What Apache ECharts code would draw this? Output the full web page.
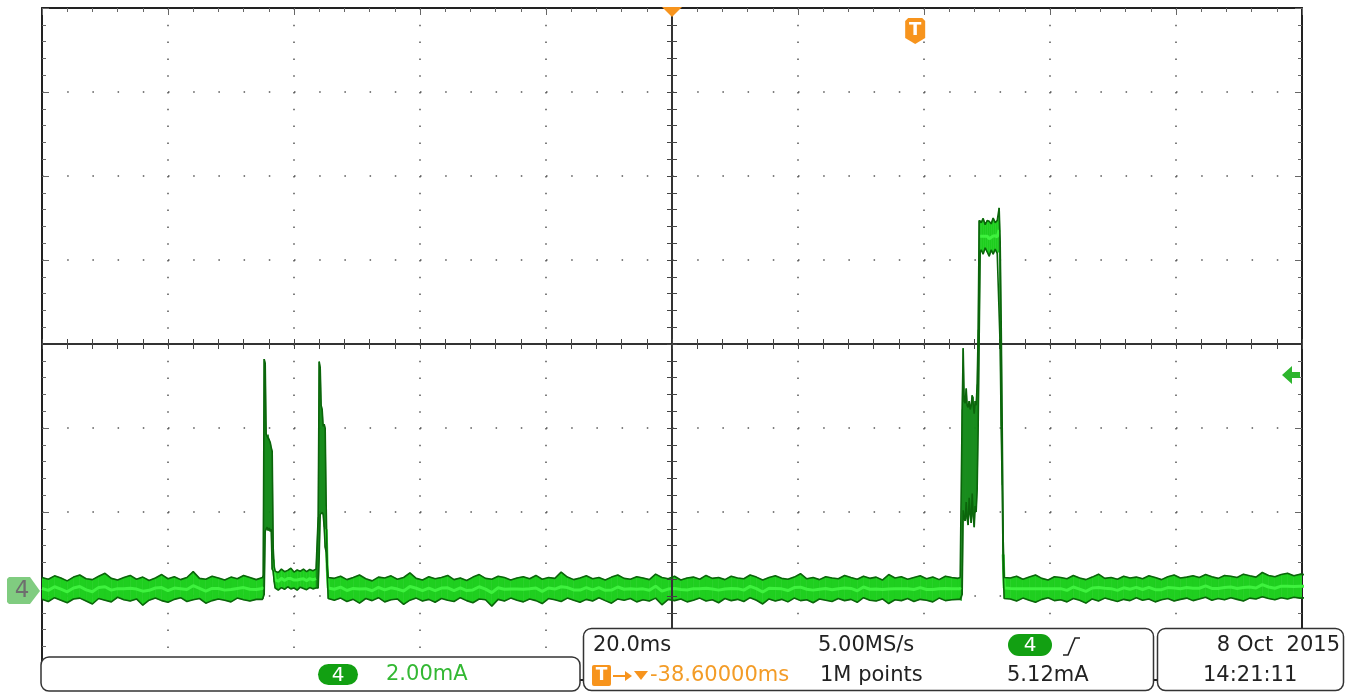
<!DOCTYPE html>
<html><head><meta charset="utf-8">
<script src="https://cdn.jsdelivr.net/npm/echarts@6/dist/echarts.min.js"></script>
<style>html,body{margin:0;padding:0;background:#fff;}#c{width:1352px;height:693px;}</style>
</head><body><div id="c"></div>
<script>
// ---------- data (time in ms relative to trigger, current in mA) ----------
const sampleStepMs = 1.0;
const timeRangeMs = [-138.6, 61.4];
const currentRangeMA = [-2.14, 13.86];
const divRangeX = [-5, 5];
const divRangeY = [-4, 4];
const horizPositionMs = -38.6;
const triggerTimeMs = 0;
const triggerLevelMA = 5.12;

const base1StartMs = -138.6;
const base1Upper = [0.30,0.26,0.34,0.29,0.22,0.31,0.36,0.27,0.25,0.33,0.40,0.28,0.24,0.30,0.35,0.26,0.31,0.23,0.29,0.37,0.27,0.32,0.25,0.30,0.44,0.28,0.26,0.33,0.29,0.24,0.31,0.27,0.35,0.30,0.25,0.30];
const base1Lower = [-0.22,-0.27,-0.18,-0.24,-0.30,-0.21,-0.19,-0.26,-0.33,-0.20,-0.24,-0.28,-0.17,-0.23,-0.26,-0.21,-0.36,-0.24,-0.19,-0.25,-0.29,-0.22,-0.18,-0.27,-0.23,-0.20,-0.31,-0.25,-0.21,-0.24,-0.28,-0.19,-0.23,-0.26,-0.22,-0.22];

// [time ms, lower mA, upper mA]
const burstA = [
 [-103.49,-0.20,0.35],[-103.33,-0.10,5.50],[-103.17,1.40,5.40],[-103.02,1.45,3.72],[-102.86,1.50,3.66],
 [-102.70,1.42,3.70],[-102.54,1.48,3.58],[-102.38,1.40,3.52],[-102.22,1.45,3.40],[-102.06,0.50,3.30],
 [-101.90,0.45,1.00],[-101.75,0.20,0.55],[-101.59,0.05,0.45],[-101.10,0.00,0.42],[-100.60,0.06,0.50],
 [-100.10,0.02,0.44],[-99.60,0.08,0.47],[-99.10,0.03,0.52],[-98.60,0.05,0.43],[-98.10,0.00,0.48],
 [-97.60,0.07,0.45],[-97.10,0.04,0.50],[-96.60,0.01,0.44],[-96.10,0.06,0.49],[-95.60,0.03,0.46],
 [-95.10,0.05,0.50],[-94.76,0.05,1.74],[-94.60,0.80,5.44],[-94.44,1.80,5.30],[-94.29,1.83,4.40],
 [-94.13,1.85,4.30],[-93.97,1.80,3.90],[-93.81,1.50,3.95],[-93.65,1.02,3.85],[-93.49,0.90,2.00],
 [-93.33,0.45,0.60],[-93.17,-0.20,0.30]
];

const base2StartMs = -92.2;
const base2Upper = [
 0.28,0.33,0.25,0.30,0.36,0.27,0.22,0.31,0.29,0.34,
 0.26,0.30,0.41,0.28,0.24,0.32,0.27,0.30,0.35,0.25,
 0.29,0.23,0.31,0.37,0.28,0.26,0.33,0.30,0.24,0.29,
 0.32,0.27,0.35,0.26,0.30,0.28,0.43,0.31,0.25,0.29,
 0.34,0.27,0.30,0.24,0.31,0.36,0.28,0.26,0.32,0.29,
 0.25,0.38,0.30,0.27,0.33,0.24,0.29,0.31,0.26,0.35,
 0.28,0.30,0.25,0.33,0.29,0.27,0.36,0.31,0.24,0.30,
 0.34,0.28,0.26,0.31,0.39,0.27,0.30,0.25,0.32,0.29,
 0.27,0.35,0.30,0.26,0.33,0.28,0.31,0.24,0.37,0.29,
 0.32,0.26,0.30,0.34,0.27,0.31,0.25,0.33,0.30,0.28];
const base2Lower = [
 -0.24,-0.19,-0.27,-0.22,-0.31,-0.20,-0.25,-0.18,-0.28,-0.23,
 -0.21,-0.34,-0.24,-0.19,-0.26,-0.22,-0.29,-0.20,-0.24,-0.27,
 -0.18,-0.25,-0.30,-0.21,-0.23,-0.38,-0.22,-0.26,-0.19,-0.24,
 -0.28,-0.21,-0.25,-0.32,-0.20,-0.23,-0.27,-0.19,-0.24,-0.29,
 -0.22,-0.26,-0.18,-0.25,-0.31,-0.21,-0.24,-0.20,-0.28,-0.23,
 -0.26,-0.19,-0.35,-0.22,-0.25,-0.21,-0.28,-0.24,-0.19,-0.26,
 -0.23,-0.30,-0.20,-0.25,-0.22,-0.27,-0.18,-0.24,-0.33,-0.21,
 -0.26,-0.22,-0.28,-0.19,-0.25,-0.23,-0.30,-0.21,-0.24,-0.27,
 -0.20,-0.25,-0.22,-0.29,-0.18,-0.24,-0.26,-0.21,-0.32,-0.23,
 -0.25,-0.20,-0.27,-0.22,-0.24,-0.28,-0.19,-0.25,-0.23,-0.22];

const burstB = [
 [7.14,-0.22,0.30],[7.30,-0.25,0.28],[7.46,-0.10,4.30],[7.62,1.90,5.76],[7.78,1.70,4.50],
 [7.94,1.65,4.45],[8.10,2.10,4.80],[8.25,1.70,4.40],[8.41,1.55,4.35],[8.57,2.20,4.50],
 [8.73,1.80,4.30],[8.89,1.60,4.40],[9.05,2.30,4.64],[9.21,1.75,4.60],[9.37,1.50,4.20],
 [9.52,2.00,4.50],[9.68,1.86,4.40],[9.84,2.40,4.90],[10.00,3.90,6.20],[10.16,6.00,8.80],
 [10.32,8.05,8.80],[10.48,8.10,8.75],[10.79,8.00,8.85],[11.11,8.15,8.70],[11.43,8.05,8.80],
 [11.75,7.95,8.78],[12.06,8.10,8.72],[12.38,8.00,8.86],[12.70,8.12,8.75],[13.02,8.02,8.80],
 [13.25,8.05,8.82],[13.33,8.05,9.10],[13.49,5.80,8.30],[13.65,3.90,6.40],[13.81,2.50,4.00],
 [13.97,0.50,1.20],[14.13,-0.20,0.30]
];

const base3StartMs = 15.1;
const base3Upper = [
 0.29,0.33,0.26,0.31,0.36,0.28,0.24,0.32,0.30,0.27,
 0.35,0.29,0.25,0.31,0.38,0.28,0.30,0.26,0.33,0.29,
 0.31,0.27,0.34,0.30,0.25,0.32,0.36,0.29,0.31,0.34,
 0.30,0.37,0.32,0.28,0.35,0.33,0.30,0.38,0.34,0.31,
 0.42,0.35,0.32,0.37,0.40,0.34,0.38,0.36];
const base3Lower = [
 -0.21,-0.26,-0.19,-0.24,-0.29,-0.22,-0.18,-0.25,-0.23,-0.28,
 -0.20,-0.24,-0.31,-0.21,-0.26,-0.19,-0.23,-0.27,-0.22,-0.25,
 -0.18,-0.24,-0.21,-0.28,-0.23,-0.20,-0.26,-0.22,-0.19,-0.25,
 -0.21,-0.17,-0.24,-0.20,-0.23,-0.18,-0.22,-0.26,-0.19,-0.21,
 -0.16,-0.20,-0.23,-0.18,-0.21,-0.17,-0.19,-0.18];

// ---------- texts ----------
const chLabel = '4';
const scaleText = '2.00mA';
const timebaseText = '20.0ms';
const rateText = '5.00MS/s';
const delayText = '-38.60000ms';
const pointsText = '1M points';
const levelText = '5.12mA';
const dateText = '8 Oct  2015';
const clockText = '14:21:11';

// ---------- build trace ----------
function fromBase(start, up, lo) {
  return up.map((u, i) => [start + i * sampleStepMs, lo[i], u]);
}
const pts = [].concat(
  fromBase(base1StartMs, base1Upper, base1Lower), burstA,
  fromBase(base2StartMs, base2Upper, base2Lower), burstB,
  fromBase(base3StartMs, base3Upper, base3Lower));
const segs = [];
for (let i = 0; i < pts.length - 1; i++) segs.push(pts[i].concat(pts[i + 1]));
const WIDE = 1.2;
const midLine = pts.map(p => [p[0], (p[2] - p[1] > WIDE) ? null : (p[1] + p[2]) / 2]);

const GRID = {left: 42, top: 8, width: 1260, height: 672, outerBoundsMode: 'none'};
const grids = [0, 1, 2, 3].map(() => Object.assign({}, GRID));

function frameAxis(gi, pos, ext, dash, split) {
  return {
    gridIndex: gi, type: 'value', position: pos, min: ext[0], max: ext[1], interval: 1,
    axisLine: {show: true, onZero: false, lineStyle: {color: '#222', width: 2}},
    axisTick: {show: true, inside: true, length: 7, lineStyle: {color: '#666', width: 1}},
    minorTick: {show: true, splitNumber: 5, length: 4, lineStyle: {color: '#666', width: 1}},
    axisLabel: {show: false},
    splitLine: {show: split, lineStyle: {color: '#555', width: 1.5, type: dash}},
    minorSplitLine: {show: false}
  };
}
function centerAxis(gi, pos, ext) {
  return {
    gridIndex: gi, type: 'value', position: pos, min: ext[0], max: ext[1], interval: 1, z: 4,
    axisLine: {show: true, onZero: true, lineStyle: {color: '#333', width: 2}},
    axisTick: {show: true, inside: false, length: 5, lineStyle: {color: '#444', width: 1}},
    minorTick: {show: true, splitNumber: 5, length: 5, lineStyle: {color: '#444', width: 1}},
    axisLabel: {show: false}, splitLine: {show: false}
  };
}

const chart = echarts.init(document.getElementById('c'), null, {renderer: 'canvas'});
chart.setOption({
  animation: false,
  backgroundColor: '#fff',
  grid: grids,
  xAxis: [
    frameAxis(0, 'bottom', divRangeX, [1.5, 15.3], true),
    frameAxis(0, 'top', divRangeX, [1.5, 15.3], false),
    centerAxis(1, 'bottom', divRangeX),
    centerAxis(2, 'top', divRangeX),
    {gridIndex: 3, type: 'value', min: timeRangeMs[0], max: timeRangeMs[1], show: false}
  ],
  yAxis: [
    frameAxis(0, 'left', divRangeY, [1.5, 23.7], true),
    frameAxis(0, 'right', divRangeY, [1.5, 23.7], false),
    centerAxis(1, 'left', divRangeY),
    centerAxis(2, 'right', divRangeY),
    {gridIndex: 3, type: 'value', min: currentRangeMA[0], max: currentRangeMA[1], show: false}
  ],
  series: [
    {
      type: 'custom', xAxisIndex: 4, yAxisIndex: 4, data: segs, clip: true, z: 2, silent: true,
      encode: {x: [0, 3], y: [1, 2, 4, 5]},
      renderItem: function (params, api) {
        const a = api.coord([api.value(0), api.value(1)]);
        const b = api.coord([api.value(3), api.value(4)]);
        const c = api.coord([api.value(3), api.value(5)]);
        const d = api.coord([api.value(0), api.value(2)]);
        const wide = (api.value(2) - api.value(1) > WIDE) || (api.value(5) - api.value(4) > WIDE);
        const fill = wide ? '#138a17' : '#1fcf1f';
        return {type: 'polygon', shape: {points: [a, b, c, d]}, style: {fill: fill, stroke: fill, lineWidth: 0.6}};
      }
    },
    {type: 'line', xAxisIndex: 4, yAxisIndex: 4, data: midLine, symbol: 'none', connectNulls: false,
     lineStyle: {color: '#3ef23e', width: 3}, z: 3, silent: true},
    {type: 'line', xAxisIndex: 4, yAxisIndex: 4, data: pts.map(p => [p[0], p[2]]), symbol: 'none',
     lineStyle: {color: '#0b650b', width: 1.6}, z: 4, silent: true},
    {type: 'line', xAxisIndex: 4, yAxisIndex: 4, data: pts.map(p => [p[0], p[1]]), symbol: 'none',
     lineStyle: {color: '#0b650b', width: 1.6}, z: 4, silent: true}
  ]
});

// ---------- overlays ----------
const FONT = '21px "DejaVu Sans"';
const ORANGE = '#f7941d';
const px = (t, v) => chart.convertToPixel({xAxisIndex: 4, yAxisIndex: 4}, [t, v]);
const zeroPt = px(timeRangeMs[0], 0);
const centerX = px(horizPositionMs, 0)[0];
const trigX = px(triggerTimeMs, 0)[0];
const levelY = px(0, triggerLevelMA)[1];
const rightX = px(timeRangeMs[1], 0)[0];

function txt(x, y, s, color, align, font) {
  return {type: 'text', x: x, y: y, z: 102,
    style: {text: s, fill: color, font: font || FONT, textAlign: align || 'left', textVerticalAlign: 'middle'}};
}
function box(x, y, w, h) {
  return {type: 'rect', z: 100, shape: {x: x, y: y, width: w, height: h, r: 8},
    style: {fill: '#fff', stroke: '#333', lineWidth: 1.5}};
}
function badge(x, y, w, h) {
  return [
    {type: 'rect', z: 101, shape: {x: x, y: y, width: w, height: h, r: h / 2}, style: {fill: '#12a012'}},
    txt(x + w / 2, y + h / 2 + 1, chLabel, '#fff', 'center', '20px "DejaVu Sans"')
  ];
}

const g = [
  // top markers
  {type: 'polygon', z: 101, shape: {points: [[centerX - 10, 7], [centerX + 10, 7], [centerX, 17]]}, style: {fill: ORANGE}},
  {type: 'polygon', z: 101, shape: {points: [[trigX - 10, 21], [trigX - 7, 18], [trigX + 7, 18], [trigX + 10, 21], [trigX + 10, 38], [trigX, 44], [trigX - 10, 38]]}, style: {fill: ORANGE}},
  txt(trigX, 30, 'T', '#fff', 'center', 'bold 18px "DejaVu Sans"'),
  // ground marker
  {type: 'polygon', z: 101, shape: {points: [[7, 579], [9, 577], [zeroPt[0] - 12, 577], [zeroPt[0] - 2, zeroPt[1] + 1], [zeroPt[0] - 12, 604], [9, 604], [7, 602]]}, style: {fill: '#80cc80'}},
  txt(22, zeroPt[1] + 1, chLabel, '#6e6e6e', 'center', '23px "DejaVu Sans"'),
  // trigger level arrow
  {type: 'polygon', z: 101, shape: {points: [[rightX - 20, levelY], [rightX - 10, levelY - 9], [rightX - 10, levelY - 3], [rightX - 2, levelY - 3], [rightX - 2, levelY + 3], [rightX - 10, levelY + 3], [rightX - 10, levelY + 9]]}, style: {fill: '#2db52d'}},
  // boxes
  box(41, 657, 539, 34),
  box(583.5, 628.5, 570, 62),
  box(1157.5, 628.5, 186, 62)
].concat(badge(318, 664, 40, 21), [
  txt(386, 675, scaleText, '#33b833'),
  txt(593, 646, timebaseText, '#222'),
  txt(818, 646, rateText, '#222'),
]).concat(badge(1008, 634, 44, 22), [
  {type: 'polyline', z: 101, shape: {points: [[1063, 655], [1068, 655], [1075, 638], [1080, 638]]}, style: {stroke: '#222', lineWidth: 1.6, fill: null}},
  {type: 'rect', z: 101, shape: {x: 592, y: 665, width: 19, height: 21, r: 2}, style: {fill: ORANGE}},
  txt(601.5, 676, 'T', '#fff', 'center', 'bold 17px "DejaVu Sans"'),
  {type: 'line', z: 101, shape: {x1: 613, y1: 676, x2: 626, y2: 676}, style: {stroke: ORANGE, lineWidth: 2}},
  {type: 'polygon', z: 101, shape: {points: [[625, 671], [632, 676], [625, 681]]}, style: {fill: ORANGE}},
  {type: 'polygon', z: 101, shape: {points: [[634, 671], [648, 671], [641, 680]]}, style: {fill: ORANGE}},
  txt(650, 676, delayText, '#f39c27'),
  txt(820, 676, pointsText, '#222'),
  txt(1007, 676, levelText, '#222'),
  txt(1340, 646, dateText, '#222', 'right'),
  txt(1203, 676, clockText, '#222')
]);
chart.setOption({graphic: {elements: g}});
</script>
</body></html>
